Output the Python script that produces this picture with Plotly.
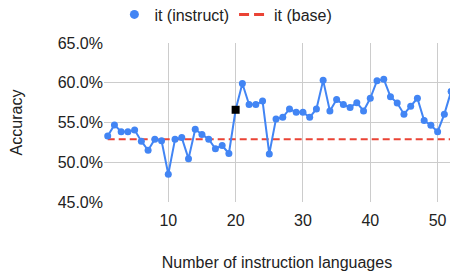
import plotly.graph_objects as go

num_languages = list(range(1, 53))
instruct_pct = [53.3, 54.7, 53.85, 53.85, 54.05, 52.65, 51.5, 52.9, 52.7, 48.5,
                52.9, 53.1, 50.45, 54.15, 53.5, 52.9, 51.7, 52.1, 51.1, 56.6,
                59.9, 57.25, 57.25, 57.7, 51.05, 55.45, 55.65, 56.7, 56.3, 56.3,
                55.65, 56.7, 60.3, 56.45, 57.9, 57.25, 56.9, 57.5, 56.45, 58.05,
                60.25, 60.45, 58.25, 57.45, 56.05, 57.05, 58.05, 55.25, 54.65, 53.85,
                56.05, 58.9]
base_pct = 52.9
highlight_x = 20

instruct = [v / 100 for v in instruct_pct]
base = [base_pct / 100] * len(num_languages)

BLUE = "#4285F4"
RED = "#EA4335"

colors = ["#000000" if x == highlight_x else BLUE for x in num_languages]
symbols = ["square" if x == highlight_x else "circle" for x in num_languages]
sizes = [8 if x == highlight_x else 7 for x in num_languages]

fig = go.Figure()
fig.add_trace(go.Scatter(
    x=num_languages, y=base, mode="lines", name="it (base)",
    line=dict(color=RED, width=2, dash="7px,4px"), showlegend=False))
fig.add_trace(go.Scatter(
    x=num_languages, y=instruct, mode="lines+markers", name="it (instruct)",
    line=dict(color=BLUE, width=2),
    marker=dict(color=colors, symbol=symbols, size=sizes, opacity=1, line=dict(width=0)),
    showlegend=False))
# legend-only entries
fig.add_trace(go.Scatter(
    x=[None], y=[None], mode="markers", name="it (instruct)",
    marker=dict(color=BLUE, size=9)))
fig.add_trace(go.Scatter(
    x=[None], y=[None], mode="lines", name="it (base)",
    line=dict(color=RED, width=3, dash="10px,5px")))

fig.update_layout(
    width=450, height=275,
    margin=dict(l=104, r=0, t=43, b=73, autoexpand=False),
    paper_bgcolor="white", plot_bgcolor="white",
    font=dict(family="Liberation Sans, Arial, sans-serif", size=16, color="#222222"),
    showlegend=True,
    legend=dict(orientation="h", x=0.03, y=1.179, xanchor="left", yanchor="middle",
                font=dict(size=16), itemwidth=30, tracegroupgap=0, bgcolor="rgba(0,0,0,0)"),
    xaxis=dict(range=[0.45, 51.84], tickvals=[10, 20, 30, 40, 50],
               showgrid=True, gridcolor="#cccccc", gridwidth=1,
               zeroline=False, showline=False, ticks="", automargin=False,
               ticklabelstandoff=7,
               title=dict(text="Number of instruction languages", font=dict(size=16), standoff=28)),
    yaxis=dict(range=[0.45, 0.65], tickvals=[0.45, 0.50, 0.55, 0.60, 0.65],
               tickformat=".1%", showgrid=True, gridcolor="#cccccc", gridwidth=1,
               zeroline=False, showline=False, ticks="", ticklabelstandoff=0,
               automargin=False,
               title=dict(text="Accuracy", font=dict(size=16), standoff=31)),
)

fig.write_html("out.html", config={"displayModeBar": False},
               post_script="document.body.style.margin='0';document.body.style.overflow='hidden';")
